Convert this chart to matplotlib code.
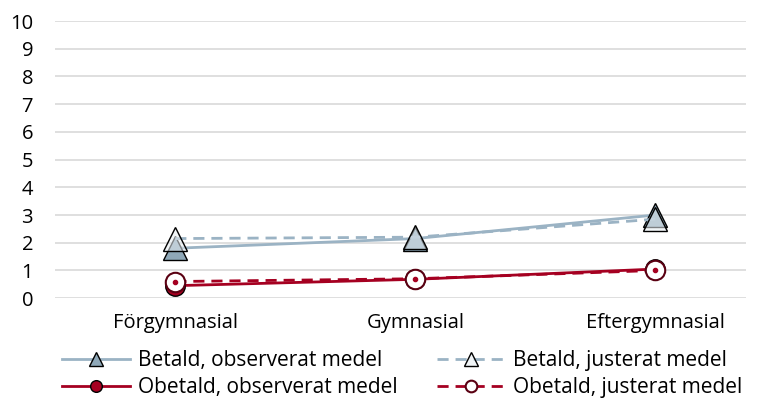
import matplotlib.pyplot as plt
import numpy as np

plt.rcParams['font.family'] = ['Open Sans', 'DejaVu Sans']

categories = ["Förgymnasial", "Gymnasial", "Eftergymnasial"]
betald_obs = [1.8, 2.15, 3.0]
betald_adj = [2.15, 2.2, 2.85]
obetald_obs = [0.45, 0.68, 1.05]
obetald_adj = [0.6, 0.7, 1.0]

blue = "#9bb3c4"
red = "#a50021"

fig, ax = plt.subplots(figsize=(7.67, 4.04), dpi=100)
fig.subplots_adjust(left=0.072, right=0.972, top=0.948, bottom=0.262)
x = np.arange(len(categories))

l1, = ax.plot(x, betald_obs, color=blue, lw=2, marker="^", ms=17, mfc="#8fa8b8",
              mec="black", mew=1, label="Betald, observerat medel", zorder=3)
l2, = ax.plot(x, betald_adj, color=blue, lw=2, ls=(0, (4, 2.5)), marker="^", ms=17,
              mfc=(0.9, 0.93, 0.95, 0.55), mec="black", mew=1,
              label="Betald, justerat medel", zorder=4)
l3, = ax.plot(x, obetald_obs, color=red, lw=2, marker="o", ms=14, mfc=red,
              mec="black", mew=1, label="Obetald, observerat medel", zorder=3)
l4, = ax.plot(x, obetald_adj, color=red, lw=2, ls=(0, (4, 2.5)), marker="o", ms=14,
              mfc="white", mec="#5a0012", mew=1.5, label="Obetald, justerat medel", zorder=4)
ax.plot(x, obetald_adj, ls="none", marker="o", ms=3, mfc=red, mec=red, zorder=5)

ax.set_ylim(0, 10)
ax.set_yticks(range(0, 11))
ax.set_xlim(-0.5, 2.375)
ax.set_xticks(x)
ax.set_xticklabels(categories)
ax.tick_params(axis="y", length=0, labelsize=14.5, colors="black", pad=16)
ax.tick_params(axis="x", length=0, labelsize=14.5, colors="black", pad=11)
ax.grid(axis="y", color="#d9d9d9", lw=1.2)
ax.set_axisbelow(True)
for s in ax.spines.values():
    s.set_visible(False)

fig.legend([l1, l3, l2, l4], [l.get_label() for l in (l1, l3, l2, l4)],
           loc="upper left", bbox_to_anchor=(0.056, 0.18), ncol=2, frameon=False,
           fontsize=15, handlelength=3.3, columnspacing=1.9, labelspacing=0.3,
           markerscale=0.6, handletextpad=0.35)

fig.savefig("out.png")
